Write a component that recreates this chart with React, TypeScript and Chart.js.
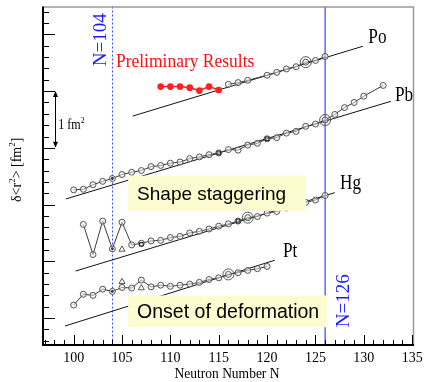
import { useEffect, useRef } from "react";
import { Chart, registerables } from "chart.js";

Chart.register(...registerables);

// Changes in mean-square charge radius δ<r²> (fm², each isotope chain offset) vs neutron number N
const PO_N = [116, 117, 118, 120, 121, 122, 123, 124, 125, 126];
const PO_DR2 = [4.12, 4.15, 4.19, 4.28, 4.33, 4.39, 4.43, 4.51, 4.54, 4.61];

const PO_PRELIM_N = [109, 110, 111, 112, 113, 114, 115];
const PO_PRELIM_DR2 = [4.08, 4.08, 4.08, 4.06, 4.01, 4.08, 4.02];

const PB_N = [100, 101, 102, 103, 104, 105, 106, 107, 108, 109, 110, 111, 112, 113, 114, 115, 116, 117, 118, 119, 120, 121, 122, 123, 124, 125, 126, 127, 128, 129, 130, 132];
const PB_DR2 = [2.26, 2.27, 2.35, 2.41, 2.46, 2.53, 2.57, 2.6, 2.67, 2.69, 2.73, 2.75, 2.81, 2.84, 2.88, 2.91, 2.97, 2.96, 3.05, 3.08, 3.16, 3.18, 3.26, 3.29, 3.38, 3.42, 3.49, 3.59, 3.71, 3.8, 3.91, 4.1];

const HG_N = [101, 102, 103, 104, 105, 106, 107, 108, 109, 110, 111, 112, 113, 114, 115, 116, 117, 118, 119, 120, 121, 122, 123, 124, 125, 126];
const HG_DR2 = [1.65, 1.12, 1.71, 1.22, 1.69, 1.29, 1.32, 1.36, 1.37, 1.42, 1.44, 1.5, 1.53, 1.57, 1.62, 1.66, 1.71, 1.77, 1.79, 1.85, 1.88, 1.94, 1.98, 2.04, 2.08, 2.16];

const PT_N = [100, 101, 102, 103, 104, 105, 106, 107, 108, 109, 110, 111, 112, 113, 114, 115, 116, 117, 118, 119, 120];
const PT_DR2 = [0.23, 0.42, 0.4, 0.51, 0.47, 0.54, 0.53, 0.67, 0.55, 0.58, 0.56, 0.58, 0.6, 0.63, 0.68, 0.71, 0.77, 0.8, 0.84, 0.87, 0.91];

// Isomer / second-measurement points
const TRI_N = [105, 105, 107];
const TRI_DR2 = [1.21, 0.64, 0.53];
const SQ_N = [115, 120, 107, 117];
const SQ_DR2 = [2.91, 3.16, 1.3, 1.71];
const BIG_N = [124, 126, 118, 116];
const BIG_DR2 = [4.51, 3.49, 1.77, 0.77];
const DOT_N = [104, 104, 104];
const DOT_DR2 = [2.46, 1.22, 0.47];

// Droplet-model reference lines (end points)
const PO_REF_N = [106.1, 129.9];
const PO_REF = [3.56, 4.79];
const PB_REF_N = [99.2, 132.8];
const PB_REF = [2.1, 3.82];
const HG_REF_N = [100.2, 127.0];
const HG_REF = [0.83, 2.21];
const PT_REF_N = [99.1, 120.8];
const PT_REF = [-0.14, 1.02];

// Shell closures
const N_SUBSHELL = 104;
const N_SHELL = 126;

const X_TICKS = [100, 105, 110, 115, 120, 125, 130, 135];
const X_MIN = 96.83;
const X_MAX = 135.19;
const Y_MIN = -0.474;
const Y_MAX = 5.491;

const SERIF = '"Liberation Serif", "Times New Roman", serif';
const SANS = '"Liberation Sans", Arial, sans-serif';

const pts = (xs: number[], ys: number[]) => xs.map((x, i) => ({ x, y: ys[i] }));

const dataLine = (label: string, xs: number[], ys: number[]) => ({
  label,
  data: pts(xs, ys),
  borderColor: "#3a3a3a",
  borderWidth: 1,
  pointRadius: 3,
  pointBorderColor: "#555",
  pointBorderWidth: 1,
  pointBackgroundColor: "rgba(235,235,235,0.55)",
  tension: 0,
});

const refLine = (label: string, xs: number[], ys: number[]) => ({
  label,
  data: pts(xs, ys),
  borderColor: "#111",
  borderWidth: 1,
  pointRadius: 0,
  tension: 0,
});

const markers = (label: string, xs: number[], ys: number[], extra: Record<string, unknown>) => ({
  label,
  data: pts(xs, ys),
  showLine: false,
  pointBorderWidth: 1,
  ...extra,
});

function drawRich(
  ctx: CanvasRenderingContext2D,
  parts: { t: string; sup?: boolean }[],
  size: number,
  family: string
) {
  let x = 0;
  for (const p of parts) {
    const s = p.sup ? Math.round(size * 0.64) : size;
    ctx.font = `${s}px ${family}`;
    ctx.fillText(p.t, x, p.sup ? -size * 0.42 : 0);
    x += ctx.measureText(p.t).width;
  }
}

const decor = {
  id: "decor",
  beforeDatasetsDraw(chart: Chart) {
    const { ctx, chartArea: a, scales } = chart;
    const xs = scales.x;
    ctx.save();
    ctx.lineWidth = 1;
    // N = 104 dotted
    const x104 = Math.round(xs.getPixelForValue(N_SUBSHELL)) + 0.5;
    ctx.strokeStyle = "#3a4cff";
    ctx.setLineDash([2, 2]);
    ctx.beginPath();
    ctx.moveTo(x104, a.top);
    ctx.lineTo(x104, a.bottom);
    ctx.stroke();
    // N = 126 solid
    ctx.setLineDash([]);
    const x126 = xs.getPixelForValue(N_SHELL);
    ctx.strokeStyle = "#3d50ff";
    ctx.lineWidth = 1.3;
    ctx.beginPath();
    ctx.moveTo(x126, a.top);
    ctx.lineTo(x126, a.bottom);
    ctx.stroke();
    ctx.restore();
  },
  afterDatasetsDraw(chart: Chart) {
    const { ctx, chartArea: a, scales } = chart;
    const xs = scales.x;
    const ys = scales.y;
    const px = (v: number) => xs.getPixelForValue(v);
    const py = (v: number) => ys.getPixelForValue(v);
    ctx.save();

    // Highlight boxes
    const box = (n0: number, n1: number, v0: number, v1: number, text: string, size: number) => {
      const x0 = px(n0), x1 = px(n1), y0 = py(v0), y1 = py(v1);
      ctx.fillStyle = "#fdfbd0";
      ctx.fillRect(x0, y0, x1 - x0, y1 - y0);
      ctx.fillStyle = "#000";
      ctx.font = `${size}px ${SANS}`;
      ctx.textBaseline = "alphabetic";
      ctx.textAlign = "left";
      ctx.fillText(text, x0 + 9, y0 + (y1 - y0) * 0.7);
    };
    box(105.63, 124.03, 2.51, 1.89, "Shape staggering", 19);
    box(105.63, 126.2, 0.4, -0.16, "Onset of deformation", 19.5);

    // Serif labels, slightly condensed
    const label = (text: string, n: number, v: number, size: number, color: string, sx = 0.86) => {
      ctx.save();
      ctx.translate(px(n), py(v));
      ctx.scale(sx, 1);
      ctx.fillStyle = color;
      ctx.font = `${size}px ${SERIF}`;
      ctx.textAlign = "left";
      ctx.textBaseline = "alphabetic";
      ctx.fillText(text, 0, 0);
      ctx.restore();
    };
    label("Po", 130.47, 4.84, 20, "#000");
    label("Pb", 133.23, 3.82, 20, "#000");
    label("Hg", 127.54, 2.28, 20, "#000");
    label("Pt", 121.65, 1.07, 20, "#000");
    label("Preliminary Results", 104.37, 4.42, 19, "#ff1010", 0.92);

    // Vertical shell labels
    const vlabel = (text: string, x: number, yBottom: number) => {
      ctx.save();
      ctx.translate(x, yBottom);
      ctx.rotate(-Math.PI / 2);
      ctx.fillStyle = "#1a1aff";
      ctx.font = `19px ${SERIF}`;
      ctx.textAlign = "left";
      ctx.textBaseline = "alphabetic";
      ctx.fillText(text, 0, 0);
      ctx.restore();
    };
    vlabel("N=104", px(N_SUBSHELL) - 6, py(4.44));
    vlabel("N=126", px(N_SHELL) + 24, py(-0.16));

    // 1 fm² scale arrow
    const ax = Math.round(px(98.07)) + 0.5;
    const ayTop = py(4);
    const ayBot = py(3);
    ctx.strokeStyle = "#000";
    ctx.fillStyle = "#000";
    ctx.lineWidth = 1;
    ctx.beginPath();
    ctx.moveTo(ax, ayTop + 2);
    ctx.lineTo(ax, ayBot - 2);
    ctx.stroke();
    ctx.beginPath();
    ctx.moveTo(ax, ayTop);
    ctx.lineTo(ax - 2.5, ayTop + 6);
    ctx.lineTo(ax + 2.5, ayTop + 6);
    ctx.closePath();
    ctx.fill();
    ctx.beginPath();
    ctx.moveTo(ax, ayBot);
    ctx.lineTo(ax - 2.5, ayBot - 6);
    ctx.lineTo(ax + 2.5, ayBot - 6);
    ctx.closePath();
    ctx.fill();
    ctx.save();
    ctx.translate(px(98.41), py(3.34));
    ctx.scale(0.86, 1);
    ctx.textAlign = "left";
    ctx.textBaseline = "alphabetic";
    drawRich(ctx, [{ t: "1 fm" }, { t: "2", sup: true }], 14, SERIF);
    ctx.restore();

    // Frame
    ctx.strokeStyle = "#999";
    ctx.lineWidth = 1.5;
    ctx.beginPath();
    ctx.moveTo(a.left, a.top + 0.5);
    ctx.lineTo(a.right - 0.5, a.top + 0.5);
    ctx.lineTo(a.right - 0.5, a.bottom);
    ctx.stroke();

    // Inward tick marks
    ctx.strokeStyle = "#000";
    ctx.lineWidth = 1;
    ctx.beginPath();
    for (let k = Math.ceil(Y_MIN / 0.2); k <= Math.floor(Y_MAX / 0.2); k++) {
      const y = Math.round(py(k * 0.2)) + 0.5;
      const len = k % 5 === 0 ? 12 : 6;
      ctx.moveTo(a.left, y);
      ctx.lineTo(a.left + len, y);
    }
    for (let n = Math.ceil(X_MIN); n <= Math.floor(X_MAX); n++) {
      const x = Math.round(px(n)) + 0.5;
      const len = n % 5 === 0 ? 10 : 5;
      ctx.moveTo(x, a.bottom);
      ctx.lineTo(x, a.bottom - len);
    }
    ctx.stroke();

    // Axis lines
    ctx.lineWidth = 2;
    ctx.beginPath();
    ctx.moveTo(a.left, a.top);
    ctx.lineTo(a.left, a.bottom);
    ctx.lineTo(a.right, a.bottom);
    ctx.stroke();

    // Axis titles
    ctx.fillStyle = "#000";
    ctx.save();
    ctx.translate(21, 202);
    ctx.rotate(-Math.PI / 2);
    ctx.textAlign = "left";
    ctx.textBaseline = "alphabetic";
    drawRich(
      ctx,
      [{ t: "δ<r" }, { t: "2", sup: true }, { t: "> [fm" }, { t: "2", sup: true }, { t: "]" }],
      14,
      SERIF
    );
    ctx.restore();

    ctx.save();
    ctx.translate(227, 378);
    ctx.scale(0.9, 1);
    ctx.font = `15px ${SERIF}`;
    ctx.textAlign = "center";
    ctx.textBaseline = "alphabetic";
    ctx.fillText("Neutron Number N", 0, 0);
    ctx.restore();

    ctx.restore();
  },
};

export default function App() {
  const ref = useRef<HTMLCanvasElement>(null);

  useEffect(() => {
    document.body.style.margin = "0";
    const canvas = ref.current;
    if (!canvas) return;

    const datasets: any[] = [
      markers("big", BIG_N, BIG_DR2, {
        pointRadius: 5.5,
        pointBorderColor: "#555",
        pointBackgroundColor: "rgba(0,0,0,0)",
      }),
      markers("dots", DOT_N, DOT_DR2, {
        pointRadius: 1.4,
        pointBorderWidth: 0,
        pointBorderColor: "#334",
        pointBackgroundColor: "#334",
      }),
      markers("squares", SQ_N, SQ_DR2, {
        pointStyle: "rect",
        pointRadius: 2.6,
        pointBorderColor: "#222",
        pointBackgroundColor: "rgba(0,0,0,0)",
      }),
      markers("triangles", TRI_N, TRI_DR2, {
        pointStyle: "triangle",
        pointRadius: 3.5,
        pointBorderColor: "#555",
        pointBackgroundColor: "rgba(0,0,0,0)",
      }),
      {
        label: "Po (preliminary)",
        data: pts(PO_PRELIM_N, PO_PRELIM_DR2),
        borderColor: "#ff2020",
        borderWidth: 1.5,
        pointRadius: 2.6,
        pointBorderColor: "#ff2020",
        pointBackgroundColor: "#ff2020",
        tension: 0,
      },
      dataLine("Po", PO_N, PO_DR2),
      dataLine("Pb", PB_N, PB_DR2),
      dataLine("Hg", HG_N, HG_DR2),
      dataLine("Pt", PT_N, PT_DR2),
      refLine("Po DM", PO_REF_N, PO_REF),
      refLine("Pb DM", PB_REF_N, PB_REF),
      refLine("Hg DM", HG_REF_N, HG_REF),
      refLine("Pt DM", PT_REF_N, PT_REF),
    ];

    const chart = new Chart(canvas, {
      type: "line",
      data: { datasets },
      options: {
        animation: false,
        responsive: false,
        maintainAspectRatio: false,
        layout: { padding: { top: 5, right: 10, left: 0, bottom: 0 } },
        plugins: { legend: { display: false }, tooltip: { enabled: false } },
        scales: {
          x: {
            type: "linear",
            min: X_MIN,
            max: X_MAX,
            grid: { display: false, drawTicks: false },
            border: { display: false },
            ticks: {
              color: "#000",
              font: { family: SERIF, size: 14 },
              padding: 5,
              maxRotation: 0,
            },
            afterBuildTicks: (s: any) => {
              s.ticks = X_TICKS.map((v) => ({ value: v }));
            },
            afterFit: (s: any) => {
              s.height = 37;
              s.paddingLeft = 0;
              s.paddingRight = 0;
            },
          },
          y: {
            type: "linear",
            min: Y_MIN,
            max: Y_MAX,
            grid: { display: false, drawTicks: false },
            border: { display: false },
            ticks: { display: false },
            afterFit: (s: any) => {
              s.width = 43;
              s.paddingTop = 0;
              s.paddingBottom = 0;
            },
          },
        },
      } as any,
      plugins: [decor as any],
    });

    return () => chart.destroy();
  }, []);

  return (
    <div style={{ width: 424, height: 382, background: "#fff" }}>
      <canvas ref={ref} width={424} height={382} style={{ display: "block" }} />
    </div>
  );
}
